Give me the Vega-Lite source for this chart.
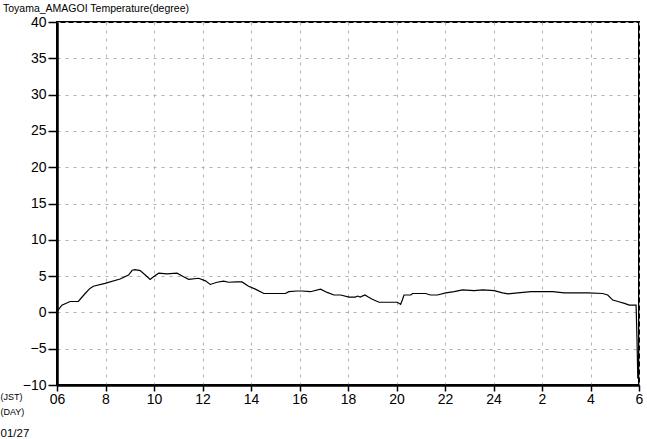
{
  "$schema": "https://vega.github.io/schema/vega-lite/v6.json",
  "width": 582,
  "height": 363,
  "autosize": {"type": "none"},
  "padding": {"left": 57, "top": 22, "right": 8, "bottom": 54},
  "background": "white",
  "title": {
    "text": "Toyama_AMAGOI Temperature(degree)",
    "anchor": "start",
    "frame": "group",
    "dx": -54,
    "offset": 1,
    "font": "Liberation Sans",
    "fontSize": 10.5,
    "fontWeight": "normal",
    "color": "black"
  },
  "config": {
    "view": {"stroke": "black", "strokeWidth": 2},
    "axis": {
      "labelFont": "Liberation Sans",
      "labelFontSize": 14,
      "labelColor": "black",
      "domainColor": "black",
      "domainWidth": 2.5,
      "tickColor": "black",
      "tickWidth": 1.5,
      "gridColor": "#b0b0b0",
      "gridDash": [3, 5],
      "gridWidth": 1
    }
  },
  "data": {
    "values": [
      {"h": 0, "t": 0.1}, {"h": 0.2, "t": 1.0}, {"h": 0.54, "t": 1.5}, {"h": 0.88, "t": 1.5},
      {"h": 1.16, "t": 2.6}, {"h": 1.36, "t": 3.3}, {"h": 1.5, "t": 3.6}, {"h": 1.98, "t": 4.0},
      {"h": 2.6, "t": 4.6}, {"h": 2.95, "t": 5.15}, {"h": 3.1, "t": 5.8}, {"h": 3.22, "t": 5.9},
      {"h": 3.43, "t": 5.75}, {"h": 3.64, "t": 5.15}, {"h": 3.84, "t": 4.55}, {"h": 3.98, "t": 4.9},
      {"h": 4.19, "t": 5.4}, {"h": 4.53, "t": 5.3}, {"h": 4.95, "t": 5.4}, {"h": 5.22, "t": 4.9},
      {"h": 5.43, "t": 4.55}, {"h": 5.84, "t": 4.7}, {"h": 6.12, "t": 4.35}, {"h": 6.32, "t": 3.85},
      {"h": 6.6, "t": 4.15}, {"h": 6.87, "t": 4.3}, {"h": 7.08, "t": 4.15}, {"h": 7.4, "t": 4.2},
      {"h": 7.63, "t": 4.2}, {"h": 7.9, "t": 3.6}, {"h": 8.18, "t": 3.2}, {"h": 8.53, "t": 2.6},
      {"h": 9.42, "t": 2.6}, {"h": 9.56, "t": 2.85}, {"h": 9.9, "t": 2.95}, {"h": 10.1, "t": 2.95},
      {"h": 10.45, "t": 2.85}, {"h": 10.87, "t": 3.2}, {"h": 11.14, "t": 2.75}, {"h": 11.42, "t": 2.4},
      {"h": 11.7, "t": 2.4}, {"h": 12.04, "t": 2.1}, {"h": 12.3, "t": 2.1}, {"h": 12.4, "t": 2.25},
      {"h": 12.5, "t": 2.1}, {"h": 12.7, "t": 2.4}, {"h": 12.82, "t": 2.15}, {"h": 13.0, "t": 1.8},
      {"h": 13.28, "t": 1.4}, {"h": 13.62, "t": 1.4}, {"h": 14.04, "t": 1.4}, {"h": 14.17, "t": 1.1},
      {"h": 14.24, "t": 1.7}, {"h": 14.31, "t": 2.4}, {"h": 14.59, "t": 2.4}, {"h": 14.66, "t": 2.6},
      {"h": 15.2, "t": 2.6}, {"h": 15.4, "t": 2.4}, {"h": 15.69, "t": 2.4}, {"h": 16.03, "t": 2.7},
      {"h": 16.38, "t": 2.85}, {"h": 16.72, "t": 3.1}, {"h": 17.2, "t": 3.0}, {"h": 17.55, "t": 3.1},
      {"h": 18.03, "t": 3.0}, {"h": 18.37, "t": 2.7}, {"h": 18.6, "t": 2.55}, {"h": 19.0, "t": 2.7},
      {"h": 19.55, "t": 2.85}, {"h": 19.96, "t": 2.85}, {"h": 20.44, "t": 2.85}, {"h": 20.92, "t": 2.7},
      {"h": 21.47, "t": 2.7}, {"h": 21.9, "t": 2.7}, {"h": 22.5, "t": 2.6}, {"h": 22.71, "t": 2.4},
      {"h": 22.92, "t": 1.7}, {"h": 23.13, "t": 1.5}, {"h": 23.4, "t": 1.25}, {"h": 23.6, "t": 1.0},
      {"h": 23.88, "t": 1.0}, {"h": 23.92, "t": -4.0}, {"h": 23.95, "t": -9.1}
    ]
  },
  "mark": {"type": "line", "color": "black", "strokeWidth": 1.2, "interpolate": "linear"},
  "encoding": {
    "x": {
      "field": "h",
      "type": "quantitative",
      "scale": {"domain": [0, 24], "nice": false, "zero": false},
      "axis": {
        "values": [0, 2, 4, 6, 8, 10, 12, 14, 16, 18, 20, 22, 24],
        "labelExpr": "datum.value == 0 ? '06' : (datum.value + 6 > 24 ? '' + (datum.value - 18) : '' + (datum.value + 6))",
        "tickSize": 6,
        "labelPadding": 1,
        "labelFlush": false,
        "labelOverlap": false,
        "title": ["(JST)", "(DAY)"],
        "titleFont": "Liberation Sans",
        "titleFontSize": 9,
        "titleFontWeight": "normal",
        "titleColor": "black",
        "titleLineHeight": 15,
        "titleAlign": "left",
        "titleBaseline": "top",
        "titleAnchor": "start",
        "titleX": -57,
        "titleY": 7
      }
    },
    "y": {
      "field": "t",
      "type": "quantitative",
      "scale": {"domain": [-10, 40], "nice": false, "zero": false},
      "axis": {
        "values": [-10, -5, 0, 5, 10, 15, 20, 25, 30, 35, 40],
        "tickSize": 9,
        "labelPadding": 2,
        "labelFlush": false,
        "labelOverlap": false,
        "title": "01/27",
        "titleFont": "Liberation Sans",
        "titleFontSize": 11.5,
        "titleFontWeight": "normal",
        "titleColor": "black",
        "titleAngle": 0,
        "titleAlign": "left",
        "titleBaseline": "top",
        "titleX": -57,
        "titleY": 405
      }
    }
  }
}
